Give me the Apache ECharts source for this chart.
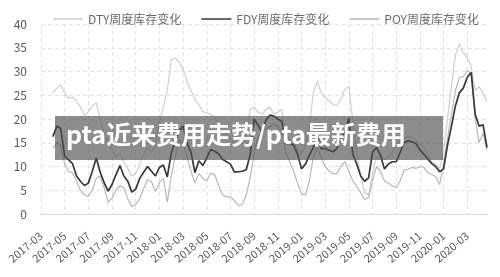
<!DOCTYPE html>
<html>
<head>
<meta charset="utf-8">
<script src="https://cdn.jsdelivr.net/npm/echarts@6/dist/echarts.min.js"></script>
<style>
  html, body { margin: 0; padding: 0; background: #fff; }
  #chart { width: 500px; height: 277px; }
</style>
</head>
<body>
<div id="chart"></div>
<script>
// 月份（每月取三个点：01 / 11 / 21）
const months = ['2017-03','2017-04','2017-05','2017-06','2017-07','2017-08','2017-09','2017-10','2017-11','2017-12',
  '2018-01','2018-02','2018-03','2018-04','2018-05','2018-06','2018-07','2018-08','2018-09','2018-10','2018-11','2018-12',
  '2019-01','2019-02','2019-03','2019-04','2019-05','2019-06','2019-07','2019-08','2019-09','2019-10','2019-11','2019-12',
  '2020-01','2020-02','2020-03','2020-04']
const days = ['01', '11', '21']
const seriesNames = ['DTY周度库存变化', 'FDY周度库存变化', 'POY周度库存变化']
const yTicks = [0, 5, 10, 15, 20, 25, 30, 35, 40]
const bannerText = 'pta近来费用走势/pta最新费用'

const dty = [null, null, null,
  25.5, 26.5, 27.2, 25.4, 24.4, 24.6, 23.8, 22.5, 20.8, 21.5,
  22.8, 23.4, 20.0, 17.0, 15.0, 13.5, 12.0, 12.8, 11.0, 9.5,
  8.0, 8.5, 10.5, 12.5, 14.0, 13.0, 14.5, 19.5, 22.5, 26.0,
  32.5, 32.8, 32.0, 30.5, 28.0, 26.0, 24.2, 23.0, 21.6, 21.3,
  21.0, 20.2, 19.0, 17.5, 16.5, 16.0, 15.0, 14.5, 15.0, 17.0,
  22.0, 22.5, 21.5, 21.0, 22.0, 22.5, 21.0, 21.5, 22.0, 16.5,
  15.5, 15.0, 13.5, 12.5, 14.5, 18.5, 25.5, 28.0, 25.5, 24.5,
  23.8, 23.0, 22.8, 24.2, 26.3, 26.8, 19.5, 13.0, 8.0, 4.5,
  4.0, 8.5, 12.0, 12.5, 11.5, 12.0, 13.0, 14.5, 15.5, 16.0,
  16.3, 16.2, 15.5, 14.8, 14.0, 12.5, 11.0, 10.5, 9.5, 13.0,
  20.0, 27.0, 33.5, 35.8, 34.0, 33.0, 31.0, 26.0, 26.8, 25.5, 23.5]

const fdy = [null, null, null,
  16.3, 18.5, 18.0, 12.2, 11.4, 10.6, 8.0, 6.9, 6.0, 6.5,
  9.0, 11.8, 8.8, 6.6, 4.8, 6.2, 8.3, 10.2, 8.0, 6.9,
  4.6, 5.2, 7.5, 8.8, 10.0, 9.0, 8.0, 9.8, 10.3, 7.8,
  12.8, 15.3, 17.5, 18.5, 15.0, 13.0, 8.7, 11.2, 10.2, 11.8,
  13.6, 13.2, 12.7, 11.5, 11.0, 10.5, 8.8, 8.9, 9.0, 9.3,
  12.5, 20.0, 18.7, 17.2, 19.8, 20.8, 20.6, 20.0, 19.5, 14.8,
  14.9, 14.5, 12.6, 9.5, 10.5, 12.4, 14.0, 16.3, 13.7, 13.8,
  13.4, 13.1, 13.8, 15.8, 17.2, 20.2, 12.6, 10.5, 8.0, 6.9,
  7.6, 13.0, 14.0, 12.4, 9.5, 10.5, 11.0, 11.0, 13.0, 15.0,
  15.4, 15.2, 14.9, 13.5, 12.6, 11.6, 10.6, 10.0, 8.9, 9.5,
  14.5, 18.5, 22.8, 25.5, 26.5, 28.8, 29.8, 21.0, 18.5, 18.8, 14.0]

const poy = [null, null, null,
  13.8, 15.0, 14.5, 10.5, 8.9, 8.7, 6.9, 5.0, 4.0, 3.7,
  5.0, 7.5, 8.0, 5.5, 2.4, 3.4, 5.0, 6.0, 5.5, 3.2,
  1.6, 2.0, 3.2, 5.3, 7.3, 6.8, 4.8, 6.6, 7.5, 2.5,
  8.0, 12.0, 15.5, 15.0, 12.0, 9.0, 6.5, 8.5, 7.5, 7.0,
  8.6, 8.3, 6.0, 4.0, 3.6, 3.6, 2.8, 1.8, 2.0, 4.0,
  7.5, 13.0, 16.0, 17.5, 18.0, 18.5, 19.0, 18.5, 17.5, 13.0,
  11.0, 9.0, 6.5, 4.2, 4.0, 7.0, 12.0, 14.0, 12.0, 10.0,
  9.0, 8.5, 8.5, 10.0, 11.0, 9.0, 7.0, 5.8, 4.5, 3.0,
  3.5, 7.0, 10.0, 9.0, 7.0, 6.5, 5.9, 5.6, 7.0, 9.3,
  9.4, 9.8, 9.6, 10.0, 9.8, 8.7, 8.3, 7.9, 6.2, 10.5,
  16.0, 21.0, 26.0, 28.7, 28.9, 30.2, 29.5, 20.0, 15.0, 17.0, 13.5]

const categories = []
months.forEach(m => days.forEach(d => categories.push(m + '-' + d)))

const font = '"Noto Sans CJK SC", "Noto Sans", sans-serif'
const gridLine = { show: true, lineStyle: { color: '#e3e3e3', type: [4, 3], width: 1 } }

let myChart = echarts.init(document.getElementById('chart'), null, { renderer: 'canvas' })

const lineSeries = (name, data, color, width, z) => ({
  name: name,
  type: 'line',
  data: data,
  symbol: 'none',
  smooth: false,
  z: z,
  lineStyle: { color: color, width: width },
  itemStyle: { color: color }
})

myChart.setOption({
  animation: false,
  textStyle: { fontFamily: font },
  legend: {
    top: 8,
    left: 48,
    icon: 'rect',
    itemWidth: 30,
    itemHeight: 1.5,
    itemGap: 20,
    textStyle: { color: '#6b6b6b', fontSize: 12, fontFamily: font },
    data: seriesNames
  },
  grid: { left: 41, right: 13, top: 24, bottom: 63 },
  xAxis: {
    type: 'category',
    data: categories,
    boundaryGap: false,
    axisLine: { lineStyle: { color: '#d9d9d9' } },
    axisTick: { show: false },
    axisLabel: {
      interval: 5,
      rotate: 40,
      margin: 20,
      color: '#595959',
      fontSize: 11,
      fontFamily: font,
      formatter: v => v.slice(0, 7)
    },
    splitLine: gridLine
  },
  yAxis: {
    type: 'value',
    min: yTicks[0],
    max: yTicks[yTicks.length - 1],
    interval: 5,
    axisLine: { show: false },
    axisTick: { show: false },
    axisLabel: { color: '#595959', fontSize: 12, margin: 14, fontFamily: font },
    splitLine: gridLine
  },
  series: [
    lineSeries(seriesNames[0], dty, '#cfcfcf', 1.2, 2),
    lineSeries(seriesNames[1], fdy, '#383838', 1.7, 4),
    lineSeries(seriesNames[2], poy, '#b9b9b9', 1.2, 3)
  ],
  graphic: [
    {
      type: 'rect',
      left: 55,
      top: 116,
      z: 100,
      shape: { width: 388, height: 44 },
      style: { fill: 'rgba(80,80,80,0.65)' }
    },
    {
      type: 'text',
      left: 66,
      top: 122,
      z: 101,
      style: {
        text: bannerText,
        fill: '#ffffff',
        font: 'bold 25px "Noto Sans CJK SC", sans-serif'
      }
    }
  ]
})
</script>
</body>
</html>
